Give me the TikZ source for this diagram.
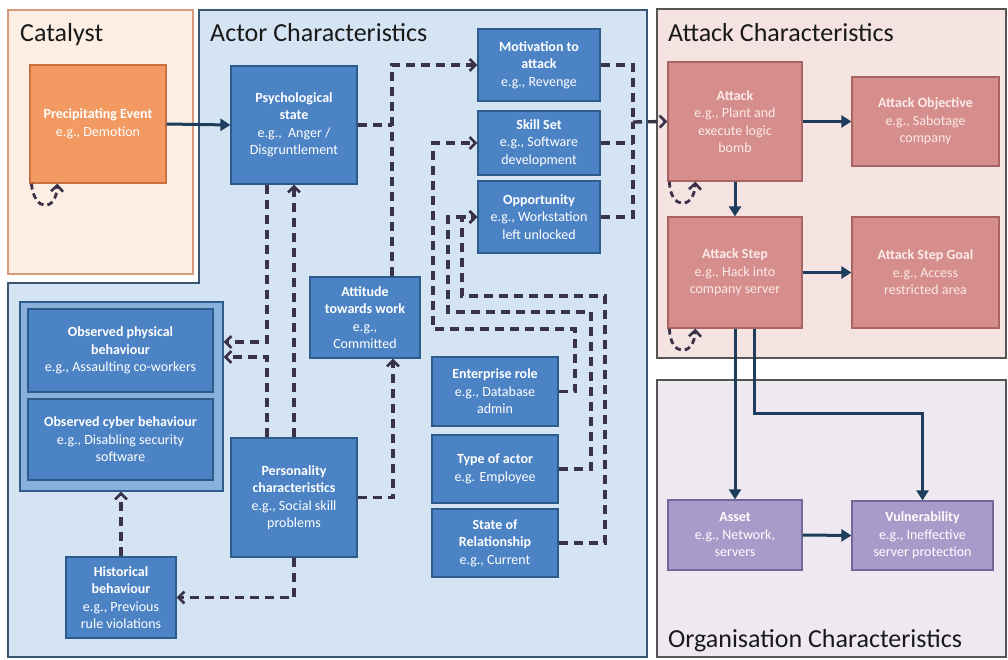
\documentclass[tikz,border=0pt]{standalone}
\usepackage{fontspec}
\setmainfont{Carlito}
\usetikzlibrary{arrows.meta}
\definecolor{blueF}{HTML}{4C83C4}
\definecolor{blueD}{HTML}{2C5B8C}
\definecolor{grpF}{HTML}{8AB0DC}
\definecolor{actorBG}{HTML}{D5E4F2}
\definecolor{actorBD}{HTML}{3B5670}
\definecolor{catBG}{HTML}{FDEEE3}
\definecolor{catBD}{HTML}{D69A7C}
\definecolor{orgF}{HTML}{F29A62}
\definecolor{orgD}{HTML}{C8703F}
\definecolor{atkBG}{HTML}{F5E3E2}
\definecolor{atkF}{HTML}{D68E8C}
\definecolor{atkD}{HTML}{A86462}
\definecolor{atkT}{HTML}{FBEAE8}
\definecolor{orgBG}{HTML}{EEE9F0}
\definecolor{purF}{HTML}{A99BC9}
\definecolor{purD}{HTML}{76679A}
\definecolor{dashC}{HTML}{3A3348}
\definecolor{solidC}{HTML}{1E3D5C}
\definecolor{panelBD}{HTML}{555555}
\tikzset{
  boxtext/.style={font=\fontsize{14}{17.5}\selectfont, align=center, inner sep=2pt},
  bluebox/.style={boxtext, draw=blueD, fill=blueF, line width=1.2pt, text=white},
  orangebox/.style={boxtext, draw=orgD, fill=orgF, line width=1.2pt, text=white},
  pinkbox/.style={boxtext, draw=atkD, fill=atkF, line width=1.2pt, text=atkT},
  purbox/.style={boxtext, draw=purD, fill=purF, line width=1.2pt, text=white},
  grpbox/.style={draw=blueD, fill=grpF, line width=1.2pt},
  dashline/.style={draw=dashC, line width=3.4pt, dash pattern=on 9pt off 6pt},
  dasharrow/.style={dashline, -{Straight Barb[length=6pt,width=12pt,line width=2.6pt]}},
  solidarrow/.style={draw=solidC, line width=3pt, -{Triangle[length=10pt,width=12pt]}},
  paneltitle/.style={font=\fontsize{26}{31}\selectfont, anchor=base west, inner sep=0pt, text=black!90},
}
\begin{document}
\begin{tikzpicture}[x=1pt,y=-1pt]
\useasboundingbox (0,0) rectangle (1008,660);
\fill[white] (0,0) rectangle (1008,660);
% panels
\draw[fill=catBG, draw=catBD, line width=1.4pt] (8,10) rectangle (193,274);
\draw[fill=actorBG, draw=actorBD, line width=1.4pt] (199,10) -- (647,10) -- (647,657) -- (8,657) -- (8,283) -- (199,283) -- cycle;
\draw[fill=atkBG, draw=panelBD, line width=1.4pt] (657,9) rectangle (1006,358);
\draw[fill=orgBG, draw=panelBD, line width=1.4pt] (657,380) rectangle (1006,657);
\node[paneltitle] (tcat) at (20,42) {Catalyst};
\node[paneltitle] (tact) at (210,42) {Actor Characteristics};
\node[paneltitle] (tatk) at (668,42) {Attack Characteristics};
\node[paneltitle] (torg) at (668,647) {Organisation Characteristics};
% catalyst
\node[orangebox, minimum width=136pt, minimum height=118pt] (pe) at (98,124) {\textbf{Precipitating Event}\\e.g., Demotion};
% actor
\node[bluebox, minimum width=126pt, minimum height=118pt] (psych) at (294,125) {\textbf{Psychological}\\\textbf{state}\\e.g.,\ \ Anger /\\Disgruntlement};
\node[bluebox, minimum width=122pt, minimum height=72pt] (motiv) at (539,65) {\textbf{Motivation to}\\\textbf{attack}\\e.g., Revenge};
\node[bluebox, minimum width=122pt, minimum height=64pt] (skill) at (539,143) {\textbf{Skill Set}\\e.g., Software\\development};
\node[bluebox, minimum width=122pt, minimum height=72pt] (opp) at (539,217) {\textbf{Opportunity}\\e.g., Workstation\\left unlocked};
\node[bluebox, minimum width=110pt, minimum height=81pt] (att) at (365,317.5) {\textbf{Attitude}\\\textbf{towards work}\\e.g.,\\Committed};
\node[grpbox, minimum width=203pt, minimum height=189pt] (grp) at (121.5,396.5) {};
\node[bluebox, minimum width=185pt, minimum height=83pt] (phys) at (120.5,350.5) {\textbf{Observed physical}\\\textbf{behaviour}\\e.g., Assaulting co-workers};
\node[bluebox, minimum width=185pt, minimum height=81pt] (cyber) at (120.5,439.5) {\textbf{Observed cyber behaviour}\\e.g., Disabling security\\software};
\node[bluebox, minimum width=126pt, minimum height=119pt] (pers) at (294,497.5) {\textbf{Personality}\\\textbf{characteristics}\\e.g., Social skill\\problems};
\node[bluebox, minimum width=110pt, minimum height=81pt] (hist) at (121,597.5) {\textbf{Historical}\\\textbf{behaviour}\\e.g., Previous\\rule violations};
\node[bluebox, minimum width=126pt, minimum height=69pt] (ent) at (495,391.5) {\textbf{Enterprise role}\\e.g., Database\\admin};
\node[bluebox, minimum width=126pt, minimum height=68pt] (type) at (495,469) {\textbf{Type of actor}\\e.g. Employee};
\node[bluebox, minimum width=126pt, minimum height=68pt] (state) at (495,543) {\textbf{State of}\\\textbf{Relationship}\\e.g., Current};
% attack
\node[pinkbox, minimum width=134pt, minimum height=119pt] (attack) at (735,121.5) {\textbf{Attack}\\e.g., Plant and\\execute logic\\bomb};
\node[pinkbox, minimum width=147pt, minimum height=89pt] (obj) at (925.5,121.5) {\textbf{Attack Objective}\\e.g., Sabotage\\company};
\node[pinkbox, minimum width=134pt, minimum height=111pt] (astep) at (735,272.5) {\textbf{Attack Step}\\e.g., Hack into\\company server};
\node[pinkbox, minimum width=147pt, minimum height=111pt] (agoal) at (925.5,272.5) {\textbf{Attack Step Goal}\\e.g., Access\\restricted area};
% organisation
\node[purbox, minimum width=134pt, minimum height=70pt] (asset) at (735,535) {\textbf{Asset}\\e.g., Network,\\servers};
\node[purbox, minimum width=141pt, minimum height=69pt] (vuln) at (922.5,535.5) {\textbf{Vulnerability}\\e.g., Ineffective\\server protection};
% junction
\coordinate (j1) at (633,122);
% solid connectors
\draw[solidarrow] (pe.east) -- (psych.west);
\draw[solidarrow] (attack.east) -- (obj.west);
\draw[solidarrow] (attack.south) -- (astep.north);
\draw[solidarrow] (astep.east) -- (agoal.west);
\draw[solidarrow] (astep.south) -- (asset.north);
\draw[solidarrow] ([xshift=19pt]astep.south) -- (754,413) -| (vuln.north);
\draw[solidarrow] (asset.east) -- (vuln.west);
% dashed connectors
\draw[dashline] (psych.east) -- (psych.east -| 392,0);
\draw[dasharrow] ([xshift=27pt]att.north) |- (motiv.west);
\draw[dasharrow] ([xshift=-27pt]psych.south) -- (267,342) -- (grp.east |- 0,342);
\draw[dasharrow] ([xshift=-27pt]pers.north) -- (267,357) -- (grp.east |- 0,357);
\draw[dasharrow] (pers.north) -- (psych.south);
\draw[dasharrow] (pers.east) -| ([xshift=28pt]att.south);
\draw[dasharrow] (pers.south) |- (hist.east);
\draw[dasharrow] (hist.north) -- (hist.north |- grp.south);
\draw[dashline] (motiv.east) -| (j1);
\draw[dashline] (opp.east) -| (j1);
\draw[dashline] (skill.east) -- (skill.east -| j1);
\draw[dasharrow] (j1) -- (attack.west);
\draw[dasharrow] (ent.east) -| (575,329) -| (433,143) -- (skill.west);
\draw[dasharrow] (type.east) -| (591,312) -| (448,217) -- (opp.west);
\draw[dasharrow] (state.east) -| (605,296) -| (462,217) -- (opp.west);
% self loops
\draw[dasharrow, dash pattern=on 6pt off 4pt, line width=2.8pt] ([xshift=2pt]pe.south west) .. controls (34,212) and (56,212) .. ([xshift=28pt]pe.south west);
\draw[dasharrow, dash pattern=on 6pt off 4pt, line width=2.8pt] ([xshift=2pt]attack.south west) .. controls (670,210) and (694,210) .. ([xshift=28pt]attack.south west);
\draw[dasharrow, dash pattern=on 6pt off 4pt, line width=2.8pt] ([xshift=2pt]astep.south west) .. controls (670,357) and (694,357) .. ([xshift=28pt]astep.south west);
\end{tikzpicture}
\end{document}
